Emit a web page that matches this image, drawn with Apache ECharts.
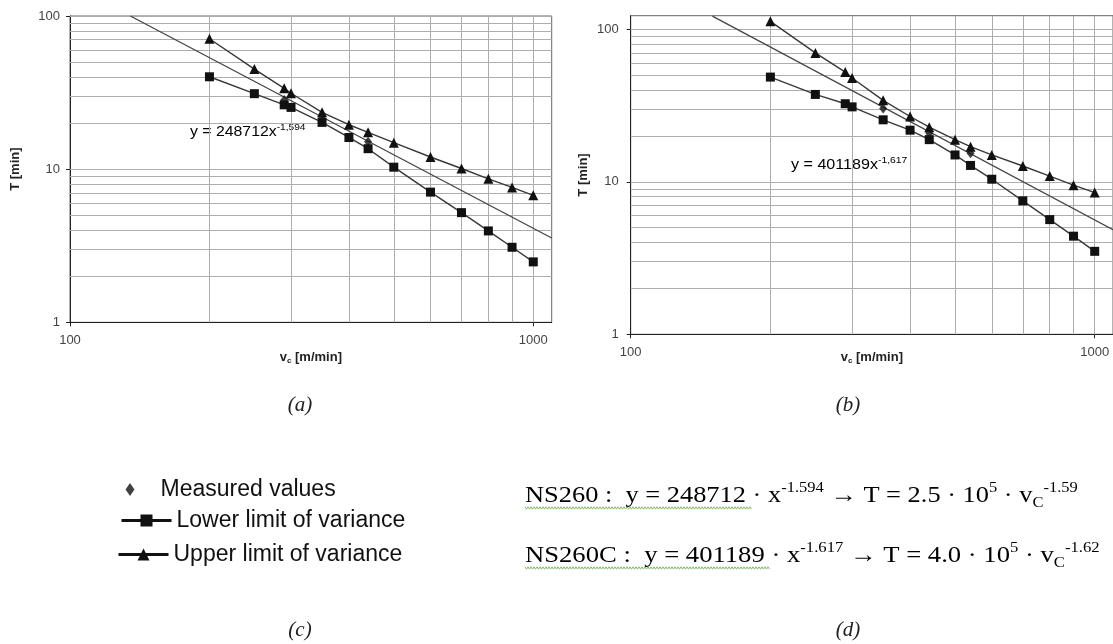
<!DOCTYPE html>
<html><head><meta charset="utf-8">
<script src="https://cdn.jsdelivr.net/npm/echarts@6.0.0/dist/echarts.min.js"></script>
<style>html,body{margin:0;padding:0;background:#fff}#c{width:1113px;height:644px}</style>
</head><body><div id="c"></div>
<script>
// ---------- data ----------
// (a) NS260
const speedA = [200, 250, 290, 300, 350, 400, 440, 500, 600, 700, 800, 900, 1000];
const upperA = [71, 45, 33.7, 31.3, 23.5, 19.5, 17.4, 14.9, 12.0, 10.1, 8.65, 7.6, 6.75];
const lowerA = [40.1, 31.1, 26.3, 25.3, 20.2, 16.1, 13.6, 10.3, 7.08, 5.2, 3.95, 3.09, 2.48];
const measuredSpeedA = [290, 350, 440];
const measuredA = [28.3, 22.0, 15.1];
const trendSpeedA = [135, 1096];
const trendA = [100, 3.55];
// (b) NS260C
const speedB = [200, 250, 290, 300, 350, 400, 440, 500, 540, 600, 700, 800, 900, 1000];
const upperB = [112.8, 70.0, 52.4, 47.9, 34.2, 26.8, 22.8, 18.9, 17.0, 15.0, 12.7, 10.9, 9.5, 8.5];
const lowerB = [48.6, 37.4, 32.5, 31.0, 25.5, 21.8, 18.9, 15.0, 12.8, 10.4, 7.5, 5.65, 4.4, 3.5];
const measuredSpeedB = [350, 440, 540];
const measuredB = [30.3, 20.8, 15.4];
const trendSpeedB = [150, 1095];
const trendB = [122, 4.85];
// axes / grid values
const xTickLabels = [100, 1000];
const yTickLabels = [1, 10, 100];
const xGridValues = [200, 300, 400, 500, 600, 700, 800, 900, 1000];
const yGridValues = [2, 3, 4, 5, 6, 7, 8, 9, 10, 20, 30, 40, 50, 60, 70, 80, 90, 100];
const xRangeA = [100, 1096], yRangeA = [1, 100];
const xRangeB = [100, 1095], yRangeB = [1, 122.8];
const seriesNames = ['Measured values', 'Lower limit of variance', 'Upper limit of variance'];
const fitTextA = ['y = 248712x', '-1,594'];
const fitTextB = ['y = 401189x', '-1,617'];

const pairs = (xs, ys) => xs.map((x, i) => [x, ys[i]]);
const SANS = 'Arial, "Liberation Sans", sans-serif';
const SERIF = '"Times New Roman", "Liberation Serif", serif';

const chart = echarts.init(document.getElementById('c'), null, {renderer: 'canvas'});

function xAxisCfg(gi, range) {
  return {
    type: 'log', logBase: 10, gridIndex: gi, min: range[0], max: range[1],
    axisLine: {lineStyle: {color: '#222', width: 1}},
    axisTick: {show: true, length: 4, inside: false, customValues: xTickLabels, lineStyle: {color: '#222'}},
    axisLabel: {customValues: xTickLabels, fontSize: 13, fontFamily: SANS, color: '#444', margin: 12,
      formatter: v => String(Math.round(v))},
    splitLine: {show: false}, minorTick: {show: false},
    name: '{b|v}{s|c}{b| [m/min]}', nameLocation: 'middle', nameGap: gi === 0 ? 29 : 17,
    nameMoveOverlap: false,
    nameTextStyle: {rich: {
      b: {fontFamily: SANS, fontSize: 13, fontWeight: 'bold', color: '#222'},
      s: {fontFamily: SANS, fontSize: 8, fontWeight: 'bold', color: '#222', verticalAlign: 'bottom', lineHeight: 10}
    }}
  };
}
function yAxisCfg(gi, range) {
  return {
    type: 'log', logBase: 10, gridIndex: gi, min: range[0], max: range[1],
    axisLine: {lineStyle: {color: '#222', width: 1}},
    axisTick: {show: true, length: 4, inside: false, customValues: yTickLabels, lineStyle: {color: '#222'}},
    axisLabel: {customValues: yTickLabels, fontSize: 13, fontFamily: SANS, color: '#444', margin: gi === 0 ? 10 : 12,
      formatter: v => String(Math.round(v))},
    splitLine: {show: false}, minorTick: {show: false},
    name: 'T [min]', nameLocation: 'middle', nameRotate: 90, nameGap: gi === 0 ? 48 : 41,
    nameMoveOverlap: false,
    nameTextStyle: {fontFamily: SANS, fontSize: 13, fontWeight: 'bold', color: '#222'}
  };
}
function seriesFor(gi, speed, upper, lower, mSpeed, meas, tSpeed, trend) {
  return [
    {type: 'line', name: 'grid' + gi, xAxisIndex: gi, yAxisIndex: gi, data: [], z: 1, silent: true,
      markLine: {silent: true, animation: false, z: 1, symbol: ['none', 'none'], label: {show: false},
        lineStyle: {color: '#adadad', width: 1, type: 'solid'}, emphasis: {disabled: true},
        data: xGridValues.map(v => ({xAxis: v})).concat(yGridValues.map(v => ({yAxis: v})))}},
    {type: 'line', name: 'fit' + gi, xAxisIndex: gi, yAxisIndex: gi, data: pairs(tSpeed, trend),
      showSymbol: false, symbol: 'none', z: 2, lineStyle: {color: '#444', width: 1.3}},
    {type: 'line', name: seriesNames[1], xAxisIndex: gi, yAxisIndex: gi, data: pairs(speed, lower),
      symbol: 'rect', symbolSize: 9, z: 3, itemStyle: {color: '#111'}, lineStyle: {color: '#383838', width: 1.4}},
    {type: 'line', name: seriesNames[2], xAxisIndex: gi, yAxisIndex: gi, data: pairs(speed, upper),
      symbol: 'triangle', symbolSize: 10, z: 3, itemStyle: {color: '#111'}, lineStyle: {color: '#383838', width: 1.4}},
    {type: 'scatter', name: seriesNames[0], xAxisIndex: gi, yAxisIndex: gi, data: pairs(mSpeed, meas),
      symbol: 'diamond', symbolSize: [8, 10], z: 4, itemStyle: {color: '#111'}}
  ];
}

function wavy(x0, x1, y) {
  const pts = [];
  let k = 0;
  for (let x = x0; x <= x1; x += 1.5, k++) pts.push([x, y + (k % 2 ? 1.2 : -1.2)]);
  return {type: 'polyline', shape: {points: pts}, style: {stroke: '#6aa84f', lineWidth: 0.8, fill: null}, silent: true};
}
const eqRich = {
  n: {fontFamily: SERIF, fontSize: 24, color: '#111', lineHeight: 30},
  sup: {fontFamily: SERIF, fontSize: 15, color: '#111', lineHeight: 15, verticalAlign: 'top'},
  sub: {fontFamily: SERIF, fontSize: 15, color: '#111', lineHeight: 15, verticalAlign: 'bottom'}
};
const fitRich = {
  n: {fontFamily: SANS, fontSize: 14, color: '#333', lineHeight: 18},
  sup: {fontFamily: SANS, fontSize: 9, color: '#333', lineHeight: 9, verticalAlign: 'top'}
};
function capText(t, x, y) {
  return {type: 'text', x: x, y: y, silent: true,
    style: {text: t, font: 'italic 21px ' + SERIF, fill: '#222', align: 'center', verticalAlign: 'middle'}};
}
const legendText = {fontFamily: SANS, fontSize: 23, color: '#111'};

const option = {
  animation: false,
  backgroundColor: '#fff',
  grid: [
    {left: 70, top: 16, width: 481.7, height: 306.3, show: true, borderColor: '#666', borderWidth: 1, backgroundColor: 'transparent'},
    {left: 630.7, top: 15.7, width: 482.6, height: 318.6, show: true, borderColor: '#666', borderWidth: 1, backgroundColor: 'transparent'}
  ],
  xAxis: [xAxisCfg(0, xRangeA), xAxisCfg(1, xRangeB)],
  yAxis: [yAxisCfg(0, yRangeA), yAxisCfg(1, yRangeB)],
  legend: [
    {data: [{name: seriesNames[0], icon: 'diamond'}], left: 125.5, top: 478, padding: 0, orient: 'vertical',
      itemWidth: 9, itemHeight: 13, symbolKeepAspect: false, selectedMode: false,
      textStyle: Object.assign({padding: [0, 0, 0, 21]}, legendText)},
    {data: [seriesNames[1]], left: 120, top: 509, padding: 0, orient: 'vertical', itemWidth: 50, itemHeight: 15, selectedMode: false,
      lineStyle: {width: 3, color: '#111'}, itemStyle: {color: '#111'}, textStyle: legendText},
    {data: [seriesNames[2]], left: 117, top: 543, padding: 0, orient: 'vertical', itemWidth: 50, itemHeight: 15, selectedMode: false,
      lineStyle: {width: 3, color: '#111'}, itemStyle: {color: '#111'}, textStyle: legendText}
  ],
  series: [].concat(
    seriesFor(0, speedA, upperA, lowerA, measuredSpeedA, measuredA, trendSpeedA, trendA),
    seriesFor(1, speedB, upperB, lowerB, measuredSpeedB, measuredB, trendSpeedB, trendB)
  ),
  graphic: [
    {type: 'text', x: 190, y: 132, silent: true, scaleX: 1.13,
      style: {text: '{n|' + fitTextA[0] + '}{sup|' + fitTextA[1] + '}', rich: fitRich, verticalAlign: 'middle'}},
    {type: 'text', x: 791, y: 165, silent: true, scaleX: 1.15,
      style: {text: '{n|' + fitTextB[0] + '}{sup|' + fitTextB[1] + '}', rich: fitRich, verticalAlign: 'middle'}},
    capText('(a)', 300, 405), capText('(b)', 848, 405), capText('(c)', 300, 630), capText('(d)', 848, 630),
    {type: 'text', x: 525, y: 496, silent: true, scaleX: 1.1,
      style: {text: '{n|NS260 :  y = 248712 · x}{sup|-1.594}{n| → T = 2.5 · 10}{sup|5}{n| · v}{sub|C}{sup|-1.59}',
        rich: eqRich, verticalAlign: 'middle'}},
    {type: 'text', x: 525, y: 556, silent: true, scaleX: 1.11,
      style: {text: '{n|NS260C :  y = 401189 · x}{sup|-1.617}{n| → T = 4.0 · 10}{sup|5}{n| · v}{sub|C}{sup|-1.62}',
        rich: eqRich, verticalAlign: 'middle'}},
    wavy(525, 752, 508),
    wavy(525, 770, 568)
  ]
};
chart.setOption(option);
</script>
</body></html>
